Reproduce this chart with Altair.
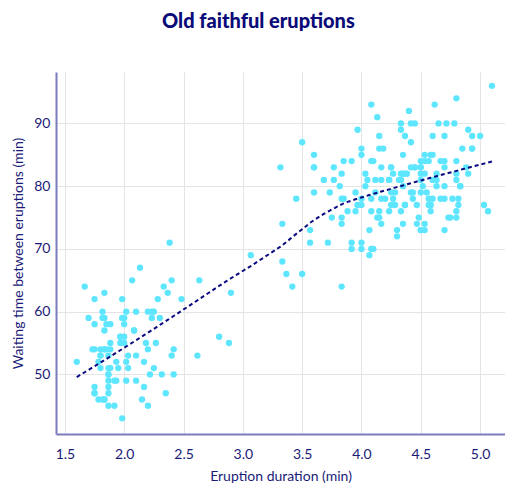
import altair as alt
import pandas as pd

eruptions = [
    3.600, 1.800, 3.333, 2.283, 4.533, 2.883, 4.700, 3.600, 1.950, 4.350,
    1.833, 3.917, 4.200, 1.750, 4.700, 2.167, 1.750, 4.800, 1.600, 4.250,
    1.800, 1.750, 3.450, 3.067, 4.533, 3.600, 1.967, 4.083, 3.850, 4.433,
    4.300, 4.467, 3.367, 4.033, 3.833, 2.017, 1.867, 4.833, 1.833, 4.783,
    4.350, 1.883, 4.567, 1.750, 4.533, 3.317, 3.833, 2.100, 4.633, 2.000,
    4.800, 4.716, 1.833, 4.833, 1.733, 4.883, 3.717, 1.667, 4.567, 4.317,
    2.233, 4.500, 1.750, 4.800, 1.817, 4.400, 4.167, 4.700, 2.067, 4.700,
    4.033, 1.967, 4.500, 4.000, 1.983, 5.067, 2.017, 4.567, 3.883, 3.600,
    4.133, 4.333, 4.100, 2.633, 4.067, 4.933, 3.950, 4.517, 2.167, 4.000,
    2.200, 4.333, 1.867, 4.817, 1.833, 4.300, 4.667, 3.750, 1.867, 4.900,
    2.483, 4.367, 2.100, 4.500, 4.050, 1.867, 4.700, 1.783, 4.850, 3.683,
    4.733, 2.300, 4.900, 4.417, 1.700, 4.633, 2.317, 4.600, 1.817, 4.417,
    2.617, 4.067, 4.250, 1.967, 4.600, 3.767, 1.917, 4.500, 2.267, 4.650,
    1.867, 4.167, 2.800, 4.333, 1.833, 4.383, 1.883, 4.933, 2.033, 3.733,
    4.233, 2.233, 4.533, 4.817, 4.333, 1.983, 4.633, 2.017, 5.100, 1.800,
    5.033, 4.000, 2.400, 4.600, 3.567, 4.000, 4.500, 4.083, 1.800, 3.967,
    2.200, 4.150, 2.000, 3.833, 3.500, 4.583, 2.367, 5.000, 1.933, 4.617,
    1.917, 2.083, 4.583, 3.333, 4.167, 4.333, 4.500, 2.417, 4.000, 4.167,
    1.883, 4.583, 4.250, 3.767, 2.033, 4.433, 4.083, 1.833, 4.417, 2.183,
    4.800, 1.833, 4.800, 4.100, 3.966, 4.233, 3.500, 4.366, 2.250, 4.667,
    2.100, 4.350, 4.133, 1.867, 4.600, 1.783, 4.367, 3.850, 1.933, 4.500,
    2.383, 4.700, 1.867, 3.833, 3.417, 4.233, 2.400, 4.800, 2.000, 4.150,
    1.867, 4.267, 1.750, 4.483, 4.000, 4.117, 4.083, 4.267, 3.917, 4.550,
    4.083, 2.417, 4.183, 2.217, 4.450, 1.883, 1.850, 4.283, 3.950, 2.333,
    4.150, 2.350, 4.933, 2.900, 4.583, 3.833, 2.083, 4.367, 2.133, 4.350,
    2.200, 4.450, 3.567, 4.500, 4.150, 3.817, 3.917, 4.450, 2.000, 4.283,
    4.767, 4.533, 1.850, 4.250, 1.983, 2.250, 4.750, 4.117, 2.150, 4.417,
    1.817, 4.467,
]
waiting = [
    79, 54, 74, 62, 85, 55, 88, 85, 51, 85,
    54, 84, 78, 47, 83, 52, 62, 84, 52, 79,
    51, 47, 78, 69, 74, 83, 55, 76, 78, 79,
    73, 77, 66, 80, 74, 52, 48, 80, 59, 90,
    80, 58, 84, 58, 73, 83, 64, 53, 82, 59,
    75, 90, 54, 80, 54, 83, 71, 64, 77, 81,
    59, 84, 48, 82, 60, 92, 78, 78, 65, 73,
    82, 56, 79, 71, 62, 76, 60, 78, 76, 83,
    75, 82, 70, 65, 73, 88, 76, 80, 48, 86,
    60, 90, 50, 78, 63, 72, 84, 75, 51, 82,
    62, 88, 49, 83, 81, 47, 84, 52, 86, 81,
    75, 59, 89, 79, 59, 81, 50, 85, 59, 87,
    53, 69, 77, 56, 88, 81, 45, 82, 55, 90,
    45, 83, 56, 89, 46, 82, 51, 86, 53, 79,
    81, 60, 82, 77, 76, 59, 80, 49, 96, 53,
    77, 77, 65, 81, 71, 70, 81, 93, 53, 89,
    45, 86, 58, 78, 66, 76, 63, 88, 52, 93,
    49, 57, 77, 68, 81, 81, 73, 50, 85, 74,
    55, 77, 83, 83, 51, 78, 84, 46, 83, 55,
    81, 57, 76, 84, 77, 81, 87, 77, 51, 78,
    60, 82, 91, 53, 78, 46, 77, 84, 49, 83,
    71, 80, 49, 75, 64, 76, 53, 94, 55, 76,
    50, 82, 54, 75, 78, 79, 78, 78, 70, 79,
    70, 54, 86, 50, 90, 54, 54, 77, 79, 64,
    75, 47, 86, 63, 85, 82, 57, 82, 67, 74,
    54, 83, 73, 73, 88, 80, 71, 83, 56, 79,
    78, 84, 58, 83, 43, 60, 75, 81, 46, 90,
    46, 74,
]

x_ticks = [1.5, 2.0, 2.5, 3.0, 3.5, 4.0, 4.5, 5.0]
y_ticks = [50, 60, 70, 80, 90]

df = pd.DataFrame({"eruptions": eruptions, "waiting": waiting})

NAVY = "#1a1a78"
FONT = "Lato"

xs = alt.Scale(domain=[1.425, 5.21], nice=False, zero=False)
ys = alt.Scale(domain=[40.5, 98.2], nice=False, zero=False)

x_enc = alt.X("eruptions:Q", scale=xs, title="Eruption duration (min)",
              axis=alt.Axis(values=x_ticks, format=".1f", labelPadding=13,
                            titlePadding=8))
y_enc = alt.Y("waiting:Q", scale=ys, title="Waiting time between eruptions (min)",
              axis=alt.Axis(values=y_ticks, labelPadding=6, titlePadding=8))

points = alt.Chart(df).mark_circle(size=40, opacity=1, color="#5ee6ff").encode(
    x=x_enc, y=y_enc
)

smooth = alt.Chart(df).transform_loess(
    "eruptions", "waiting", bandwidth=0.66
).mark_line(color="#0a0a80", strokeWidth=2, strokeDash=[4, 3]).encode(
    x="eruptions:Q", y="waiting:Q"
)

chart = (points + smooth).properties(
    width=449, height=362,
    padding={"left": 3, "top": 4, "right": 0, "bottom": 0},
    title=alt.TitleParams(
        "Old faithful eruptions", font=FONT, fontSize=20, fontWeight=900,
        color="#0a0a78", anchor="middle", frame="bounds", offset=40,
    ),
).configure_view(stroke=None).configure_axis(
    labelFont=FONT, titleFont=FONT, labelFontSize=14, titleFontSize=14,
    labelColor=NAVY, titleColor=NAVY, titleFontWeight="normal",
    ticks=False, domainColor="#7b7bbd", domainWidth=2,
    gridColor="#e4e4e4", gridWidth=1,
)

chart.save("out.html", embed_options={"renderer": "svg", "actions": False})
